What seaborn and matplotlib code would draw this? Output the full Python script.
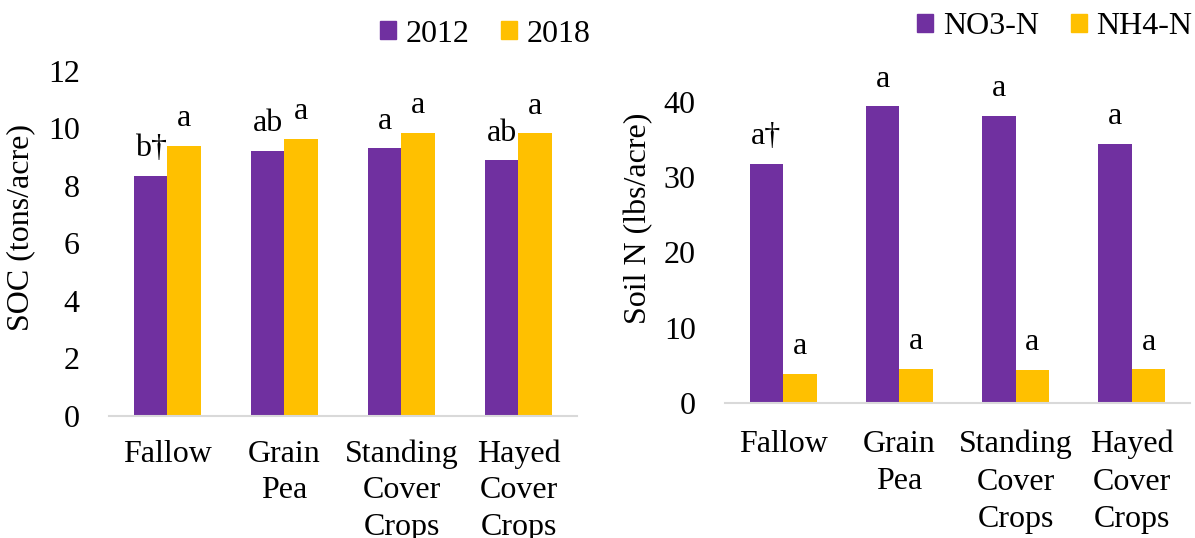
import matplotlib
matplotlib.use("Agg")
import matplotlib.pyplot as plt
import matplotlib.patches as mpatches
import pandas as pd
import seaborn as sns

# Treatments and measured values
treatments = ["Fallow", "Grain\nPea", "Standing\nCover\nCrops", "Hayed\nCover\nCrops"]

soc_years = ["2012", "2018"]
soc_2012 = [8.36, 9.23, 9.31, 8.89]
soc_2018 = [9.40, 9.65, 9.85, 9.83]
soc_letters_2012 = ["b\u2020", "ab", "a", "ab"]
soc_letters_2018 = ["a", "a", "a", "a"]

n_forms = ["NO3-N", "NH4-N"]
no3_n = [31.8, 39.4, 38.1, 34.4]
nh4_n = [3.89, 4.55, 4.42, 4.50]
no3_letters = ["a\u2020", "a", "a", "a"]
nh4_letters = ["a", "a", "a", "a"]

soc_ticks = [0, 2, 4, 6, 8, 10, 12]
n_ticks = [0, 10, 20, 30, 40]

PURPLE = "#7030A0"
GOLD = "#FFC000"

sns.set_theme(style="white")
plt.rcParams["font.family"] = ["Liberation Serif", "DejaVu Serif"]
plt.rcParams["text.color"] = "#000000"
plt.rcParams["axes.labelcolor"] = "#000000"
plt.rcParams["xtick.color"] = "#000000"
plt.rcParams["ytick.color"] = "#000000"

FS = 23

soc_df = pd.DataFrame({
    "treatment": treatments * 2,
    "value": soc_2012 + soc_2018,
    "group": [soc_years[0]] * 4 + [soc_years[1]] * 4,
})
n_df = pd.DataFrame({
    "treatment": treatments * 2,
    "value": no3_n + nh4_n,
    "group": [n_forms[0]] * 4 + [n_forms[1]] * 4,
})

fig = plt.figure(figsize=(11.95, 5.38), dpi=100)
ax1 = fig.add_axes([0.0912, 0.2268, 0.3916, 0.6413])
ax2 = fig.add_axes([0.6067, 0.2504, 0.3891, 0.6307])


def draw(ax, df, levels, ylim, ticks, ylabel, letters, label_x, legend_center,
         xpad, xspacing):
    sns.barplot(data=df, x="treatment", y="value", hue="group",
                hue_order=levels, palette=[PURPLE, GOLD], width=0.575,
                saturation=1, legend=False, ax=ax, errorbar=None,
                linewidth=0)
    ax.set_ylim(*ylim)
    ax.set_xlim(-0.5, len(treatments) - 0.5)
    ax.set_yticks(ticks)
    ax.set_yticklabels([str(t) for t in ticks], fontsize=FS)
    ax.set_xticks(range(len(treatments)))
    ax.set_xticklabels(treatments, fontsize=FS, linespacing=xspacing,
                       multialignment="center")
    ax.tick_params(axis="y", length=0, pad=21)
    ax.tick_params(axis="x", length=0, pad=xpad)
    ax.set_xlabel("")
    ax.set_ylabel(ylabel, fontsize=FS)
    ax.yaxis.set_label_coords(label_x, 0.546)
    for side in ["left", "right", "top"]:
        ax.spines[side].set_visible(False)
    ax.spines["bottom"].set_color("#D9D9D9")
    ax.spines["bottom"].set_linewidth(1.5)
    ax.grid(False)

    for container, labs in zip(ax.containers, letters):
        for bar, lab in zip(container, labs):
            ax.annotate(lab, xy=(bar.get_x() + bar.get_width() / 2, bar.get_height()),
                        xytext=(0, 19.5), textcoords="offset pixels",
                        ha="center", va="baseline", fontsize=FS)

    handles = [mpatches.Patch(color=PURPLE, label=levels[0]),
               mpatches.Patch(color=GOLD, label=levels[1])]
    fig.legend(handles=handles, loc="center", ncol=2, frameon=False,
               fontsize=FS, handlelength=0.5, handleheight=0.5,
               handletextpad=0.3, columnspacing=1.0, borderpad=0,
               bbox_to_anchor=legend_center)


draw(ax1, soc_df, soc_years, (0, 12), soc_ticks, "SOC (tons/acre)",
     [soc_letters_2012, soc_letters_2018], -0.158, (485 / 1195, 1 - 34 / 538),
     17, 1.33)
draw(ax2, n_df, n_forms, (0, 45), n_ticks, "Soil N (lbs/acre)",
     [no3_letters, nh4_letters], -0.155, (1055 / 1195, 1 - 27 / 538),
     19, 1.38)

fig.savefig("out.png", dpi=100, facecolor="white")
